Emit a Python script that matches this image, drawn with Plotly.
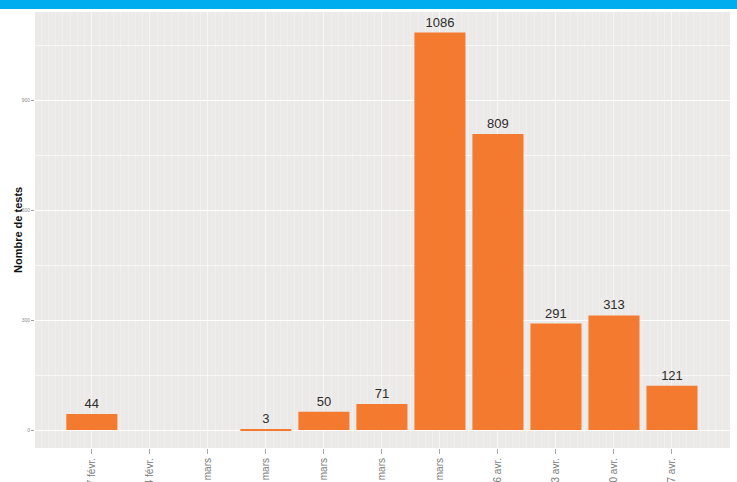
import plotly.graph_objects as go

# weekly number of tests
weeks = ["17 févr.", "24 févr.", "2 mars", "9 mars", "16 mars", "23 mars",
         "30 mars", "6 avr.", "13 avr.", "20 avr.", "27 avr."]
tests = [44, None, None, 3, 50, 71, 1086, 809, 291, 313, 121]
y_ticks = [0, 300, 600, 900]

positions = list(range(len(weeks)))
labels = ["" if v is None else str(v) for v in tests]

BAR_COLOR = "#F37A2F"
PANEL_BG = "#ECEAE9"

fig = go.Figure()

fig.add_trace(go.Bar(
    x=positions,
    y=tests,
    width=0.88,
    marker=dict(color=BAR_COLOR, line=dict(width=0)),
    text=labels,
    textposition="outside",
    textfont=dict(family="Liberation Sans Narrow, Arial Narrow, Liberation Sans, sans-serif",
                  size=13, color="#2b2b2b"),
    cliponaxis=False,
    showlegend=False,
))

fig.update_layout(
    width=737,
    height=482,
    margin=dict(l=35, r=7, t=12, b=34),
    paper_bgcolor="white",
    plot_bgcolor=PANEL_BG,
    # blue band across the top of the page
    shapes=[dict(type="rect", xref="paper", yref="paper",
                 x0=-35 / 695, x1=1 + 7 / 695,
                 y0=1 + 3 / 436, y1=1 + 12 / 436,
                 fillcolor="#00AEEF", line=dict(width=0), layer="above")],
    annotations=[dict(text="<b>Nombre de tests</b>", xref="paper", yref="paper",
                      x=(18 - 35) / 695, y=0.5, textangle=-90, showarrow=False,
                      xanchor="center", yanchor="middle",
                      font=dict(family="Liberation Sans, Arial, sans-serif",
                                size=11, color="#111111"))],
)

fig.update_xaxes(
    range=[-0.98, 11.0],
    tickmode="array",
    tickvals=positions,
    ticktext=weeks,
    tickangle=-90,
    tickfont=dict(family="Liberation Sans, Arial, sans-serif", size=10, color="#7a7a7a"),
    ticks="outside",
    ticklen=5,
    tickcolor="#a8a8a8",
    showgrid=True,
    gridcolor="rgba(255,255,255,0.45)",
    gridwidth=1,
    minor=dict(dtick=0.125, tick0=0, showgrid=True,
               gridcolor="rgba(255,255,255,0.25)", gridwidth=1),
    zeroline=False,
    showline=False,
    automargin=False,
)

fig.update_yaxes(
    range=[-49, 1142],
    tickmode="array",
    tickvals=y_ticks,
    tickfont=dict(family="Liberation Sans, Arial, sans-serif", size=5, color="#8a8a8a"),
    ticks="outside",
    ticklen=3,
    tickcolor="#a0a0a0",
    showgrid=True,
    gridcolor="rgba(255,255,255,0.8)",
    gridwidth=1,
    minor=dict(dtick=150, tick0=0, showgrid=True,
               gridcolor="rgba(255,255,255,0.6)", gridwidth=1),
    zeroline=False,
    showline=False,
    automargin=False,
)

# page has a default 8px body margin; drop it so the chart fills the window
fig.write_html("out.html", config={"displayModeBar": False},
               post_script="document.body.style.margin='0';")
